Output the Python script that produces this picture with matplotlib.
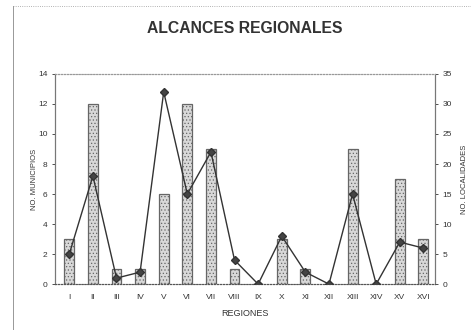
import matplotlib
matplotlib.use("Agg")
import matplotlib.pyplot as plt
from matplotlib.lines import Line2D
import numpy as np

regiones = ["I", "II", "III", "IV", "V", "VI", "VII", "VIII", "IX", "X",
            "XI", "XII", "XIII", "XIV", "XV", "XVI"]
municipios = [3, 12, 1, 1, 6, 12, 9, 1, 0, 3, 1, 0, 9, 0, 7, 3]
localidades = [5, 18, 1, 2, 32, 15, 22, 4, 0, 8, 2, 0, 15, 0, 7, 6]

plt.rcParams['font.family'] = ['Liberation Sans', 'DejaVu Sans']
plt.rcParams['hatch.linewidth'] = 0.5

fig = plt.figure(figsize=(4.71, 3.30), dpi=100)
fig.patch.set_facecolor('white')

# outer border (top dotted, left solid)
fig.add_artist(Line2D([0.028, 1.0], [0.982, 0.982], transform=fig.transFigure,
                      color='#999999', linewidth=0.6, linestyle=':'))
fig.add_artist(Line2D([0.028, 0.028], [0.0, 0.982], transform=fig.transFigure,
                      color='#888888', linewidth=0.6))

ax = fig.add_axes([0.117, 0.139, 0.807, 0.637])
x = np.arange(len(regiones))
ax.bar(x, municipios, width=0.42, facecolor='#d8d8d8', edgecolor='#666666',
       linewidth=0.9, hatch='.....', zorder=2)
ax.set_ylim(0, 14)
ax.set_xlim(-0.6, 15.5)
ax.set_yticks(range(0, 15, 2))
ax.set_xticks(x)
ax.set_xticklabels(regiones)

ax2 = ax.twinx()
ax2.plot(x, localidades, color='#333333', linewidth=1.0, marker='D',
         markersize=4, markerfacecolor='#444444', markeredgecolor='#333333', zorder=3)
ax2.set_ylim(0, 35)
ax2.set_yticks(range(0, 36, 5))

for a in (ax, ax2):
    a.spines['top'].set_linestyle(':')
    a.spines['top'].set_color('#999999')
    a.spines['bottom'].set_linestyle(':')
    a.spines['bottom'].set_color('#555555')
    a.spines['left'].set_color('#777777')
    a.spines['right'].set_color('#777777')
    a.tick_params(axis='both', labelsize=6, colors='#333333', length=2, width=0.6)

ax.tick_params(axis='x', length=0, pad=7)
ax.set_xlabel('REGIONES', fontsize=6.5, color='#333333', labelpad=6)
ax.set_ylabel('NO. MUNICIPIOS', fontsize=5.5, color='#333333', labelpad=0)
ax2.set_ylabel('NO. LOCALIDADES', fontsize=5.5, color='#333333', labelpad=6)

fig.text(0.52, 0.915, 'ALCANCES REGIONALES', ha='center', va='center',
         fontsize=11.3, fontweight='bold', color='#333333')

fig.savefig('out.png', dpi=100)
